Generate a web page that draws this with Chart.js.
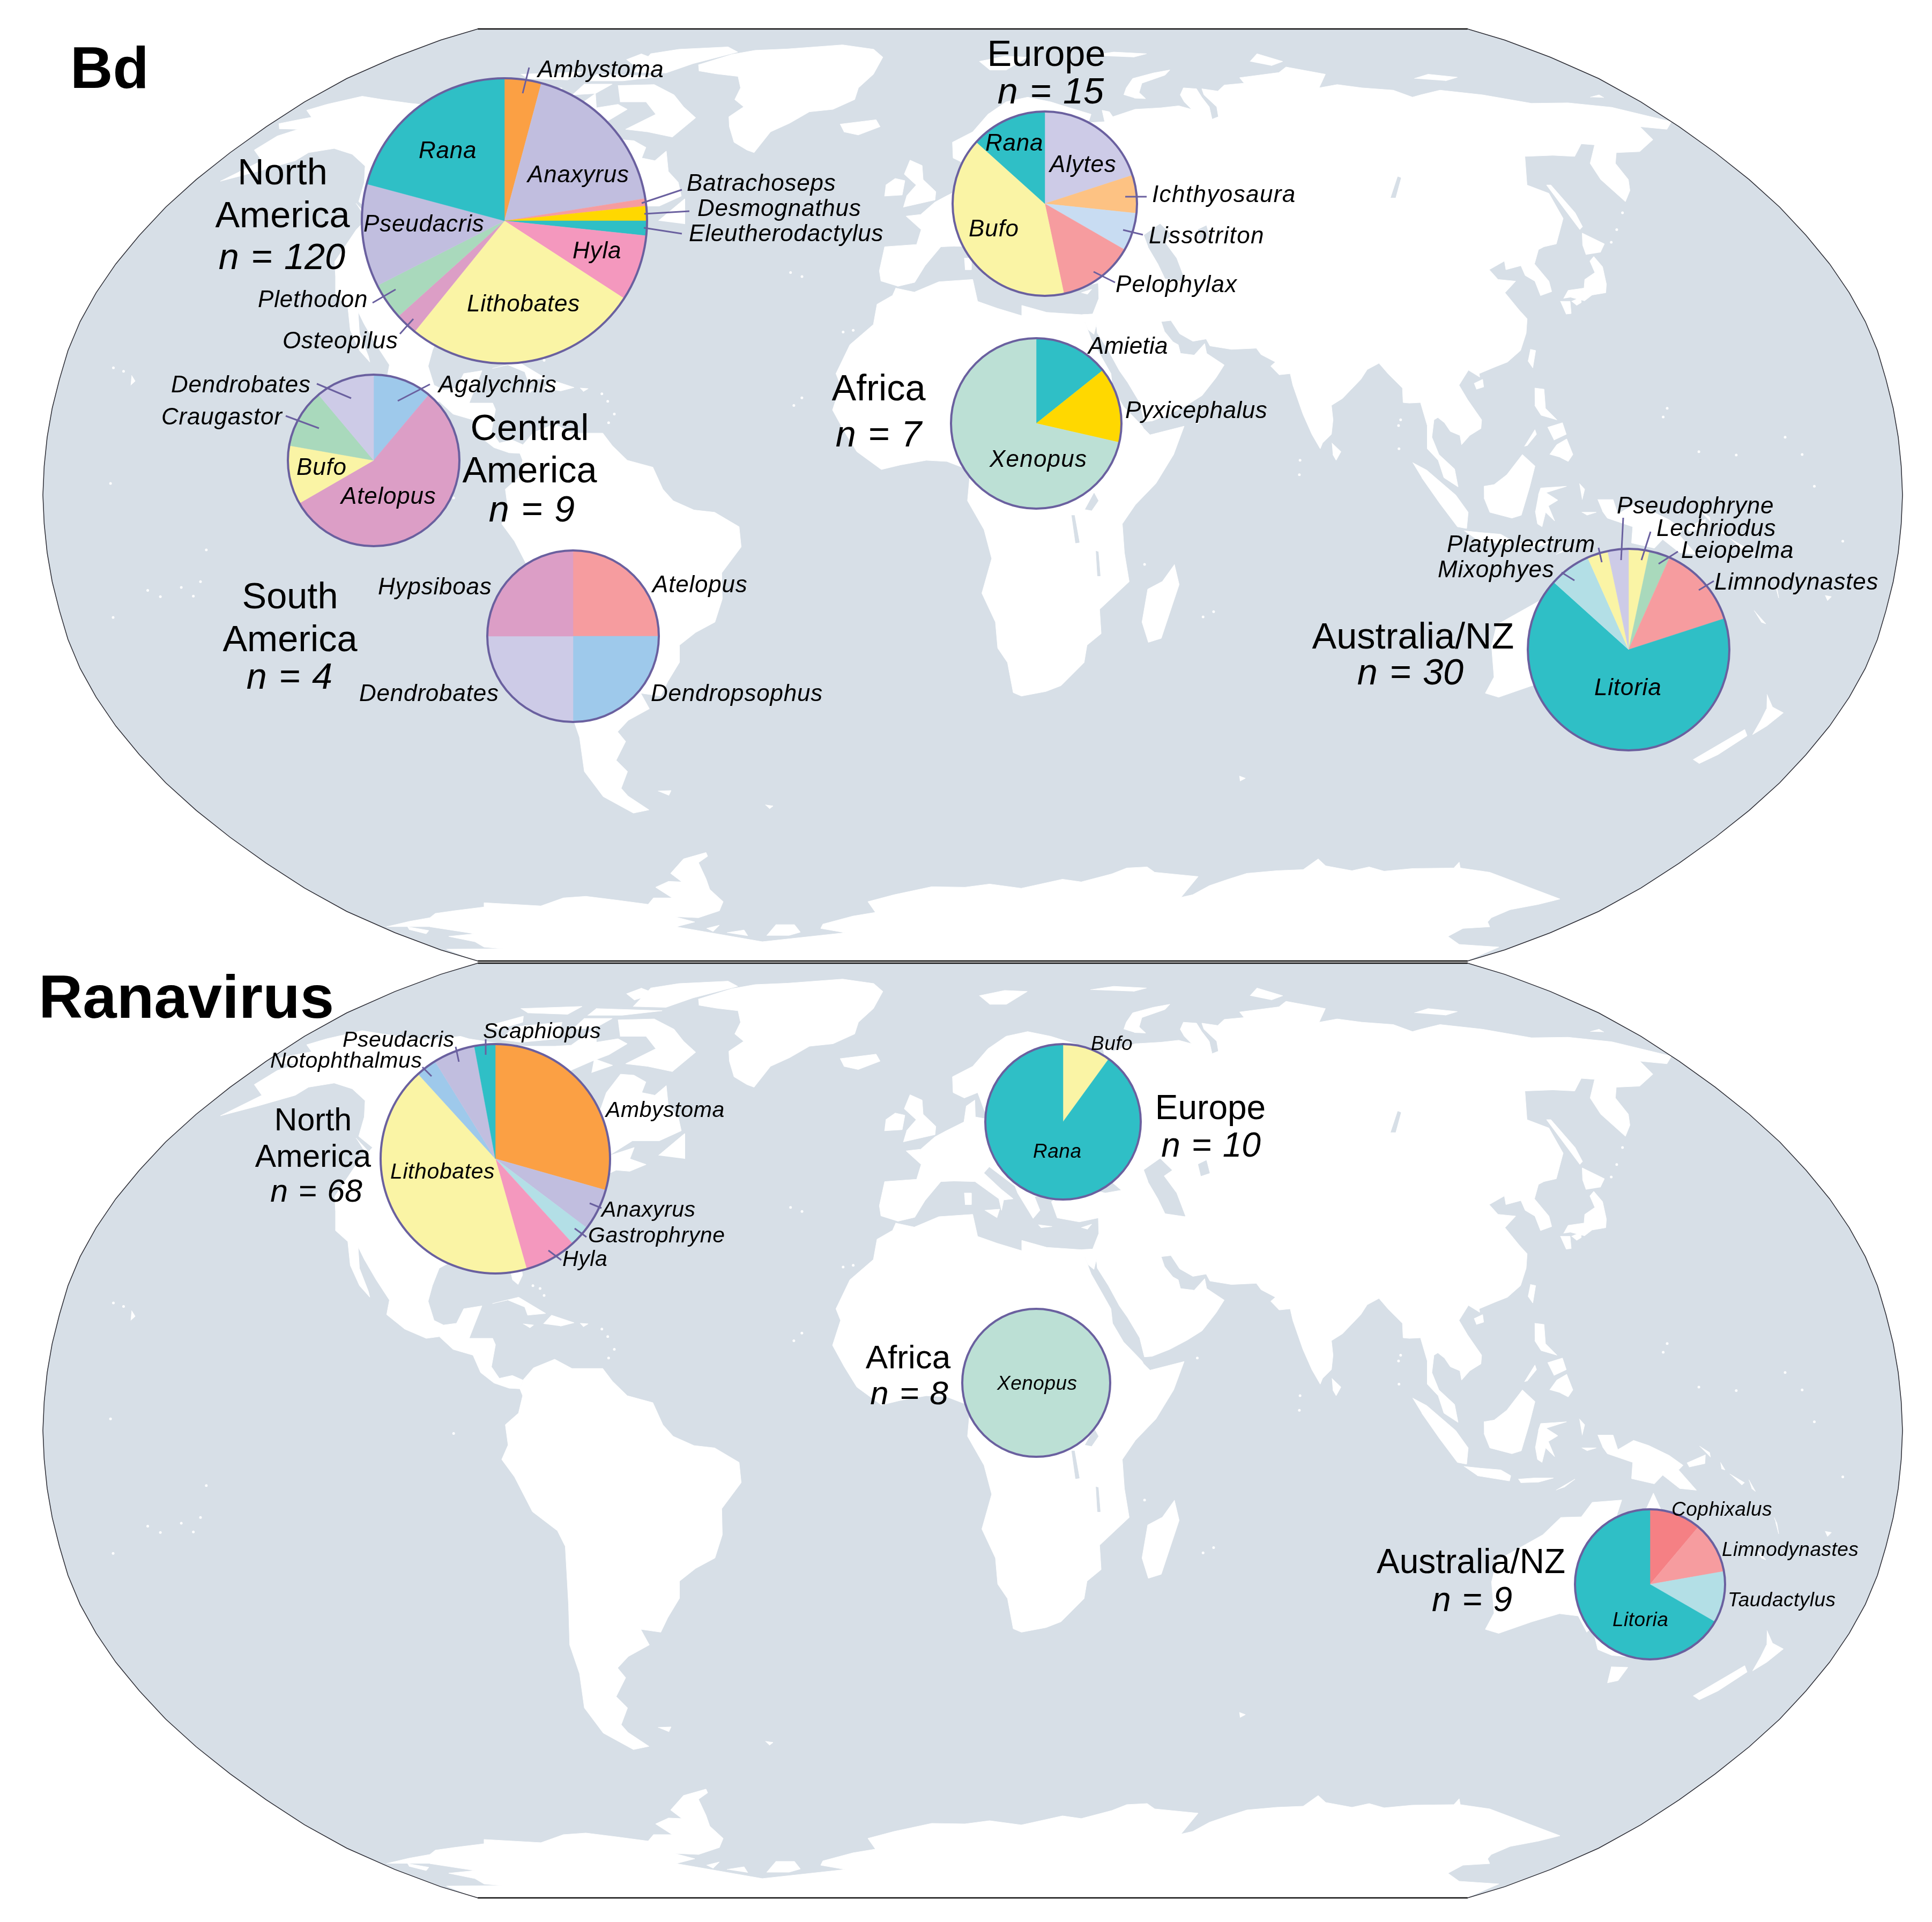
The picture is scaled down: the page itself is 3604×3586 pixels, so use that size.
<!DOCTYPE html>
<html>
<head>
<meta charset="utf-8">
<title>Bd and Ranavirus hosts by region</title>
<script src="https://cdn.jsdelivr.net/npm/chart.js@4"></script>
<style>
  html, body { margin: 0; background: #fff; }
  #stage { position: relative; width: 3604px; height: 3586px; overflow: hidden; }
  #stage canvas, #stage svg { position: absolute; }
  text { font-family: 'Liberation Sans', Arial, sans-serif; fill: #000; }
</style>
</head>
<body>
<div id="stage"></div>
<script>
// palette
const TEAL = '#2FBFC6', ORANGE = '#FBA044', LAVENDER = '#C1BEDF', SALMON = '#F69C9F', GOLD = '#FFD800';
const PINK = '#F498BE', YELLOW = '#FAF4A5', MAUVE = '#DC9EC6', GREEN = '#A9D9BC', BLUE = '#9EC9EB';
const LILAC = '#CDCBE7', PEACH = '#FDC283', PALEBLUE = '#C8DCF2', MINT = '#BCE0D5', CYAN = '#B3DFE6', CORAL = '#F58084';
const OCEAN = '#D7DFE7', RIM = '#6A609F';

// Bd, counts clockwise from 12 o'clock
const bdNorthAmericaGenera = ['Ambystoma', 'Anaxyrus', 'Batrachoseps', 'Desmognathus', 'Eleutherodactylus', 'Hyla', 'Lithobates', 'Osteopilus', 'Plethodon', 'Pseudacris', 'Rana'];
const bdNorthAmericaCounts = [5, 22, 1, 2, 2, 9, 32, 3, 5, 14, 25];
const bdNorthAmericaColors = [ORANGE, LAVENDER, SALMON, GOLD, TEAL, PINK, YELLOW, MAUVE, GREEN, LAVENDER, TEAL];

const bdCentralGenera = ['Agalychnis', 'Atelopus', 'Bufo', 'Craugastor', 'Dendrobates'];
const bdCentralCounts = [1, 5, 1, 1, 1];
const bdCentralColors = [BLUE, MAUVE, YELLOW, GREEN, LILAC];

const bdSouthGenera = ['Atelopus', 'Dendropsophus', 'Dendrobates', 'Hypsiboas'];
const bdSouthCounts = [1, 1, 1, 1];
const bdSouthColors = [SALMON, BLUE, LILAC, MAUVE];

const bdEuropeGenera = ['Alytes', 'Ichthyosaura', 'Lissotriton', 'Pelophylax', 'Bufo', 'Rana'];
const bdEuropeCounts = [3, 1, 1, 2, 6, 2];
const bdEuropeColors = [LILAC, PEACH, PALEBLUE, SALMON, YELLOW, TEAL];

const bdAfricaGenera = ['Amietia', 'Pyxicephalus', 'Xenopus'];
const bdAfricaCounts = [1, 1, 5];
const bdAfricaColors = [TEAL, GOLD, MINT];

const bdAustraliaGenera = ['Lechriodus', 'Leiopelma', 'Limnodynastes', 'Litoria', 'Mixophyes', 'Platyplectrum', 'Pseudophryne'];
const bdAustraliaCounts = [1, 1, 4, 20, 2, 1, 1];
const bdAustraliaColors = [YELLOW, GREEN, SALMON, TEAL, CYAN, YELLOW, LILAC];

// Ranavirus
const ranaNorthAmericaGenera = ['Ambystoma', 'Anaxyrus', 'Gastrophryne', 'Hyla', 'Lithobates', 'Notophthalmus', 'Pseudacris', 'Scaphiopus'];
const ranaNorthAmericaCounts = [20, 4, 2, 5, 29, 2, 4, 2];
const ranaNorthAmericaColors = [ORANGE, LAVENDER, CYAN, PINK, YELLOW, BLUE, LAVENDER, TEAL];

const ranaEuropeGenera = ['Bufo', 'Rana'];
const ranaEuropeCounts = [1, 9];
const ranaEuropeColors = [YELLOW, TEAL];

const ranaAfricaGenera = ['Xenopus'];
const ranaAfricaCounts = [8];
const ranaAfricaColors = [MINT];

const ranaAustraliaGenera = ['Cophixalus', 'Limnodynastes', 'Taudactylus', 'Litoria'];
const ranaAustraliaCounts = [1, 1, 1, 6];
const ranaAustraliaColors = [CORAL, SALMON, CYAN, TEAL];

// pie placement on the page: genera, counts, colours, centre x, centre y, radius
const pies = [
  [bdNorthAmericaGenera, bdNorthAmericaCounts, bdNorthAmericaColors, 941, 412, 266],
  [bdCentralGenera, bdCentralCounts, bdCentralColors, 697, 859, 160],
  [bdSouthGenera, bdSouthCounts, bdSouthColors, 1069, 1187, 160],
  [bdEuropeGenera, bdEuropeCounts, bdEuropeColors, 1949, 380, 172],
  [bdAfricaGenera, bdAfricaCounts, bdAfricaColors, 1933, 790, 159],
  [bdAustraliaGenera, bdAustraliaCounts, bdAustraliaColors, 3038, 1212, 188],
  [ranaNorthAmericaGenera, ranaNorthAmericaCounts, ranaNorthAmericaColors, 924, 2162, 214],
  [ranaEuropeGenera, ranaEuropeCounts, ranaEuropeColors, 1983, 2093, 145],
  [ranaAfricaGenera, ranaAfricaCounts, ranaAfricaColors, 1933, 2580, 138],
  [ranaAustraliaGenera, ranaAustraliaCounts, ranaAustraliaColors, 3078, 2956, 140]
];

// text: label, x, baseline y
const panelTitles = [['Bd', 131, 164, 110], ['Ranavirus', 72, 1899, 114]];
const bdRegions = [['North', 527, 344], ['America', 527, 424], ['Central', 988, 821], ['America', 988, 900], ['South', 541, 1135], ['America', 541, 1215], ['Africa', 1639, 747], ['Europe', 1952, 123], ['Australia/NZ', 2636, 1210]];
const bdSizes = [['n = 120', 526, 502], ['n = 9', 992, 973], ['n = 4', 540, 1285], ['n = 7', 1639, 833], ['n = 15', 1960, 193], ['n = 30', 2631, 1277]];
const ranaRegions = [['North', 584, 2109, 59], ['America', 584, 2177, 59], ['Africa', 1694, 2553, 62], ['Europe', 2258, 2088, 64], ['Australia/NZ', 2744, 2935, 64]];
const ranaSizes = [['n = 68', 590, 2242, 59], ['n = 8', 1696, 2620, 62], ['n = 10', 2259, 2158, 64], ['n = 9', 2746, 3006, 64]];
const bdLabels = [
  ['Ambystoma', 1003, 144, 0.3], ['Batrachoseps', 1281, 356], ['Desmognathus', 1301, 403], ['Eleutherodactylus', 1285, 450],
  ['Anaxyrus', 984, 340], ['Rana', 781, 295], ['Pseudacris', 678, 432], ['Hyla', 1068, 482], ['Lithobates', 871, 581],
  ['Plethodon', 481, 573], ['Osteopilus', 527, 650], ['Dendrobates', 319, 732], ['Agalychnis', 818, 732],
  ['Craugastor', 301, 792], ['Bufo', 553, 886], ['Atelopus', 636, 940], ['Hypsiboas', 705, 1109], ['Atelopus', 1217, 1105],
  ['Dendrobates', 670, 1308], ['Dendropsophus', 1214, 1308], ['Rana', 1838, 281], ['Alytes', 1958, 321],
  ['Ichthyosaura', 2149, 377, 1.4], ['Bufo', 1807, 441], ['Lissotriton', 2143, 454, 1.4], ['Pelophylax', 2081, 545, 1.2],
  ['Amietia', 2030, 660, 0.3], ['Pyxicephalus', 2099, 780, 0.5], ['Xenopus', 1846, 871, 1.2], ['Pseudophryne', 3016, 958],
  ['Lechriodus', 3090, 1000], ['Platyplectrum', 2699, 1030], ['Leiopelma', 3136, 1041], ['Mixophyes', 2682, 1077],
  ['Limnodynastes', 3198, 1100], ['Litoria', 2974, 1297]
];
const ranaLabels = [
  ['Pseudacris', 639, 1953], ['Scaphiopus', 901, 1937], ['Notophthalmus', 504, 1992], ['Ambystoma', 1130, 2084],
  ['Lithobates', 728, 2199], ['Anaxyrus', 1122, 2270], ['Gastrophryne', 1097, 2318], ['Hyla', 1049, 2362]
];
const ranaSmallLabels = [
  ['Bufo', 2035, 1959], ['Rana', 1927, 2160], ['Xenopus', 1860, 2593], ['Cophixalus', 3118, 2828],
  ['Limnodynastes', 3212, 2903], ['Taudactylus', 3223, 2997], ['Litoria', 3008, 3034]
];

// leader lines from a label to its slice: x1, y1, x2, y2
const leaders = [
  [987, 126, 975, 174], [1272, 354, 1197, 379], [1286, 394, 1202, 399], [1272, 436, 1201, 425],
  [695, 565, 738, 540], [746, 623, 771, 595], [591, 716, 655, 743], [802, 717, 742, 748], [533, 776, 595, 799],
  [2139, 367, 2099, 367], [2132, 438, 2095, 429], [2080, 527, 2040, 507], [3028, 966, 3024, 1045],
  [3079, 992, 3062, 1045], [3130, 1029, 3094, 1052], [2982, 1022, 2988, 1049], [2913, 1068, 2937, 1083],
  [3197, 1084, 3169, 1101], [850, 1953, 856, 1981], [906, 1939, 906, 1968], [788, 1991, 805, 2008],
  [1100, 2245, 1122, 2254], [1072, 2292, 1094, 2308], [1023, 2333, 1047, 2351]
];

// coastlines, lon/lat
const landPolygons = [
  // North and Central America
  [[-168,65.6],[-164,66.5],[-162,66.9],[-166,68.3],[-163,69.5],[-157,71.2],[-150,70.5],[-141,69.7],[-135,69.3],[-128,70],[-125,69.5],[-115,68.5],[-108,68],[-100,68],[-96,68.2],[-94,71.8],[-90,68.8],[-85,69.5],[-81.5,68.5],[-84,66.3],[-87,65],[-93,62],[-94.5,59],[-92.5,57],[-88,56.5],[-82.5,55.2],[-82,53],[-80,51.3],[-79,52],[-79,54.5],[-77,56],[-78,59],[-77.5,62.5],[-74,62.3],[-70,61],[-69.5,59],[-66,58.5],[-64.5,60.3],[-61.5,56.5],[-58,54.5],[-56,52],[-60,50.2],[-66,50.2],[-70,47.5],[-65,49],[-65,47],[-61,46],[-64,44.8],[-67,45],[-70,43.7],[-70.5,41.7],[-74,40.6],[-75.5,38],[-76,35],[-78,33.8],[-81,32],[-81.3,30],[-80,26.8],[-80.5,25.2],[-81.8,26],[-82.8,28],[-84,30],[-86,30.4],[-89,30.3],[-90,29.1],[-94,29.6],[-97,28],[-97.5,25],[-97.8,22.3],[-96,19],[-94,18.2],[-91.5,18.5],[-90.5,21],[-87,21.5],[-88,18],[-88.6,15.9],[-84,15.9],[-83.3,14.8],[-83.7,11],[-82,9],[-79.5,9.5],[-77.4,8.7],[-77.9,7.2],[-80,7.3],[-83,8.2],[-85.7,10],[-87.5,13],[-91.5,14],[-94.5,16.2],[-97,15.9],[-101.5,17.5],[-105.5,20],[-105.5,22.5],[-109,26],[-112.5,29.5],[-114.7,31.7],[-113,28],[-110,24],[-109.5,23],[-112,25],[-115,28.5],[-117.2,32.6],[-120.6,34.5],[-122.5,37.8],[-124.3,40.4],[-124,46],[-123,49],[-128,51],[-130.5,54.5],[-134,57.5],[-140,59.7],[-146,60.8],[-151,60],[-152,58.5],[-158,56.5],[-164,54.7],[-160,58.5],[-165,60.5],[-164,63.2],[-161,64.5],[-166,64.6]],
  // Arctic Canada, Greenland
  [[-73,78.2],[-66,80.8],[-60,82],[-50,82.4],[-33,83.6],[-22,82.3],[-18,80],[-19,76],[-22,73],[-22,70.5],[-27,68.5],[-33,68],[-37,65.7],[-41,64],[-43,60],[-45,60.5],[-49,62],[-52,65],[-53.5,67],[-51,69],[-54.5,70.5],[-55,73],[-58,75.5],[-65,76.1],[-71,76.8]],
  [[-90,73.5],[-80,73.7],[-72,71.5],[-67,69],[-62,66.8],[-65,63],[-72,64],[-78,64.5],[-73,67.5],[-78,70],[-85,70]],
  [[-90,76.5],[-80,76.3],[-75,78.5],[-65,81.5],[-70,83],[-85,82.3],[-92,81]],
  [[-117,72],[-105,73],[-101,69.5],[-110,68.8],[-116,69.3]],
  [[-125,72],[-118,74.3],[-116,73],[-120,71.5]],
  [[-100,76],[-80,75.5],[-90,74.5],[-100,74.5]],
  [[-122,76],[-105,76.5],[-106,74.7],[-118,75]],
  [[-87,65.5],[-81,64.2],[-85,62.8]],
  [[-59,47.6],[-55,51.5],[-53,47]],
  [[-95,81],[-88,79.5],[-92,78],[-97,79.5]],
  [[-100,73.8],[-92,73.8],[-94,71.8],[-100,71.5]],
  [[-128.3,50.7],[-123.5,48.4],[-125,48.8]],
  // Caribbean, Hawaii
  [[-85,21.9],[-80,23],[-74.2,20.2],[-77.7,19.9],[-78.5,21.3],[-82,22.5]],
  [[-74.4,18.4],[-73,19.9],[-68.4,18.6],[-71,18]],
  [[-78.4,18.4],[-76.3,18.2],[-77,17.7]],
  [[-67.2,18.5],[-65.6,18.4],[-66.5,17.9]],
  [[-156,20.7],[-155,19.7],[-155.7,19]],
  // South America
  [[-77.4,8.7],[-75.5,10.8],[-71.5,12.3],[-68,10.7],[-62,10.7],[-60,8.5],[-57,6],[-52,4.8],[-50,1],[-48,-1],[-44,-2.6],[-40,-3],[-35.3,-5.5],[-35,-9],[-39,-13.5],[-39.2,-18],[-41,-22],[-45,-23.8],[-48.5,-26],[-49,-29],[-52,-32.3],[-54,-34.8],[-58,-34.3],[-57,-37],[-62,-39],[-65,-41],[-64,-42.7],[-67.5,-46],[-66,-48],[-69,-51],[-68.3,-52.4],[-65,-54.9],[-69,-55.5],[-74,-52.5],[-75.5,-48],[-73.5,-42],[-73.5,-37],[-71.5,-30],[-70.3,-20],[-71.5,-17.3],[-76,-14],[-79,-8],[-81.3,-5],[-80,-2.5],[-80.5,1],[-78,3],[-77.3,6],[-77.9,7.2]],
  [[-61,-51.5],[-58,-51.4],[-59,-52.3]],
  // Africa, Madagascar
  [[-5.9,35.8],[-2,35.1],[3,36.9],[10,37.3],[11,33.5],[15,32.3],[20,31],[20,32.8],[25,31.6],[32,31.2],[34.3,31.3],[32.6,29.9],[33.7,27],[35.5,24],[37.3,21],[37.5,18.5],[39.5,15.3],[43,12],[43.3,11.5],[44.5,10.4],[51.2,11.9],[49,7],[45.5,2],[41.5,-1.7],[39,-5],[39.5,-10],[40.6,-15],[35,-19.8],[35.5,-24],[32.8,-26],[32.4,-29],[28,-33],[25,-34],[20,-34.8],[18.3,-34.2],[17,-29],[15,-26.5],[14.5,-22],[11.8,-17],[13.7,-11],[12.2,-6],[9,-1],[9.5,3.9],[8.5,4.6],[5,5.8],[1,6],[-4,5.2],[-7.7,4.4],[-12.5,7.5],[-15,11],[-17.4,14.7],[-16,19],[-17,21],[-14.5,26],[-10,29.5],[-9.5,33],[-6.5,34.5]],
  [[49.3,-12],[50.4,-15.5],[47.5,-24.8],[45,-25.5],[43.5,-22],[44.3,-16.3],[47,-15]],
  // Eurasia
  [[-9,37],[-9.5,38.8],[-8.8,43],[-2,43.4],[-1.2,46],[-4.7,48.4],[-1.5,48.7],[1.5,50.9],[4,52],[8,53.6],[8.5,56.5],[10.5,57.6],[10.6,54.5],[14,54],[19,54.5],[21,57],[24,57.2],[23.5,59.2],[30,59.9],[25,60.2],[21.5,61],[21.5,63],[25,65],[22,65.8],[17.5,62],[17.5,60.5],[19,59.5],[16.5,56.5],[14.3,55.5],[12.8,55.5],[11.2,59],[8,58],[5.3,59],[5,62],[10,64],[14,67.5],[19,70],[25,71],[31,70],[33,69.5],[41,67.5],[40,66.2],[33,66.6],[34.8,64.5],[37,64],[40,64.6],[40,65.8],[44,66],[44.2,68.3],[46,68],[46.5,67],[53,68.5],[60,68.8],[65,69.2],[68,68.5],[67,70],[67,71.5],[69,73],[72.5,72.8],[72.5,71],[73,69],[72,66.5],[74,67],[75,69],[73.5,71.5],[74,72.8],[78,72.3],[81,73.6],[87,74],[87,75.2],[100,76.4],[104,77.7],[113,76],[107,73],[113,73.7],[119,73],[127,72.5],[130,71],[133,71.5],[140,72.5],[150,71.5],[160,69.7],[170,69.8],[180,68.9],[190,66],[186,64.5],[180,65],[179,62.5],[172,60.2],[166,60],[163,58],[162,55],[160,53],[156.7,51],[155.6,55],[157,58],[163,61.5],[160,61.7],[155,59.3],[150,59.5],[143,59.3],[137.5,54],[141,52.5],[140,48],[135,43.5],[132,43],[130.5,42.5],[128,40],[129.4,37],[129,35.2],[126.4,34.5],[126.5,37],[125,38],[125,39.7],[121.5,39],[122,40.5],[118,39],[119,37.3],[122.5,37],[119.3,35],[121,32],[122,30.5],[121,28],[119,25],[116,23],[113.5,22.2],[110,21],[110,20.4],[108,21.6],[105.7,19],[107,16.5],[109.3,13],[109,11.5],[106.7,10.3],[105,8.7],[104.8,10.3],[103,11],[102,12.5],[100.8,13.4],[100,13],[99.3,10],[100.5,7],[103.4,4.5],[104,1.4],[101.3,3],[100.3,6],[98.3,8],[98.6,12],[97.7,16],[95.5,15.9],[94.3,16],[94.5,18.5],[92,21],[90.5,22.8],[88,21.7],[86.5,20],[82.5,16.7],[80.2,15.5],[80.3,13],[79.8,10.5],[78,9],[77.5,8],[76,10.5],[74.5,14],[73,19],[72.7,21],[70.5,20.8],[69,22.3],[70,23],[67.3,24.3],[66.5,25.4],[61.5,25.2],[57.3,25.8],[56.7,27],[54,26.6],[51.5,27.9],[50,30.2],[48,30],[48.5,28.3],[50,26.5],[51,26],[51.3,24.5],[54,24.2],[56.3,26.2],[56.5,24.5],[59.8,22.5],[58,20.3],[55,17.2],[52,15.6],[48.5,14],[45,12.8],[43.5,12.7],[42.7,16],[40.5,19.5],[39,21.5],[37,25],[35,28],[34.9,29.5],[34.3,27.8],[33.2,28.6],[32.6,29.9],[32.3,31.2],[34.3,31.3],[35.8,34],[36,36.7],[32,36],[27.5,36.7],[26.5,39.5],[29,41],[33,42],[38,41],[41.5,41.5],[37,45],[38.5,47.2],[35,45.8],[33.5,44.6],[31,46.5],[28,43],[28.5,41.4],[26,40.8],[23,40.4],[24,38],[22.5,36.6],[19.5,41],[19,42.2],[13.6,45.6],[12.4,44.5],[16,41.7],[18.5,40],[16.5,39.8],[16,38],[15.5,40],[10.5,43],[6,43.1],[3.2,43],[0,39.7],[-2,36.8],[-5.5,36.1]],
  // European and Arctic islands
  [[-5.5,50],[1.5,51.3],[1.6,52.8],[-1.5,55],[-2,57.6],[-5,58.6],[-6,56],[-3,54],[-5,52]],
  [[-10,52],[-6,52.2],[-5.7,54.8],[-8,55.2],[-10,54]],
  [[-24,65.5],[-15,66.4],[-13.6,65],[-18.7,63.4],[-22.5,64]],
  [[12,79],[20,80.3],[27,80],[20,77],[15,77]],
  [[51.5,71.5],[53,73],[56,75],[63,76.3],[68.5,77],[66,75.8],[58,74],[56,72],[57,70.7],[54,70.8]],
  [[47,80.5],[55,81.5],[65,81],[60,80]],
  [[95,79],[100,81],[105,79],[100,78]],
  [[137,75],[143,76],[150,75.3],[145,74.5]],
  [[178.5,71],[182,71.5],[182,70.9]],
  [[8.2,41],[9.7,41],[9.7,39],[8.4,39]],
  [[12.5,38],[15.6,38.2],[15,36.7]],
  [[23.5,35.5],[26.3,35.2],[24,35]],
  [[32.3,35],[34.5,35.6],[33.5,34.7]],
  // East Asia
  [[130.9,34],[132.5,35.4],[136,35.8],[137,37.3],[139.8,38.5],[140,40.5],[141.4,41.3],[142,39.5],[141,36.5],[140,35],[137,34.6],[135,33.6],[132.5,34.2]],
  [[130,33.5],[132,33.5],[131.3,31.4],[130.2,31.3]],
  [[132.3,33.5],[134.5,34.2],[134.2,33.3],[133,32.8]],
  [[140,41.6],[140.5,43.3],[142,45.4],[145.3,43.5],[143.3,42]],
  [[142,46],[142,54],[143,54],[143.5,49],[143,46.5]],
  [[121,25.2],[122,25],[120.8,22],[120.1,23.2]],
  [[108.7,19.3],[110.5,20],[110.5,18.7],[109,18.3]],
  [[79.8,9],[81.5,7.5],[80.5,6],[79.9,7]],
  // South-east Asia
  [[120.5,18.5],[122.3,18.3],[122,15],[124,13],[121,13.8],[120,15.5]],
  [[122,7],[123.5,8.7],[125.5,9.7],[126.5,7],[125.5,5.8],[124,6.5]],
  [[122,11.7],[125,12.5],[125.5,10.5],[123,9.5]],
  [[117.2,8.4],[119.5,11.3],[119.7,10.5],[117.7,8.5]],
  [[95.3,5.6],[98,4.3],[103.5,0],[106,-3],[105.8,-5.8],[104,-5.5],[100.5,-1.5],[97,3]],
  [[105.3,-6.2],[108.5,-6.5],[112.5,-6.8],[114.5,-7.8],[114.3,-8.7],[108,-7.8]],
  [[116,-8.4],[119,-8.2],[122.8,-8.2],[120,-8.9],[116.5,-9]],
  [[123.5,-10.3],[127,-8.4],[125,-9.8]],
  [[109,1.5],[111,1.8],[113.5,3.5],[116.7,7],[119,5],[117.8,1.2],[116.3,-3.5],[114.5,-4],[110.2,-3],[109,-0.5]],
  [[119.5,0],[120,1.2],[125,1.5],[121,0.4],[123.3,-0.9],[121.5,-1.9],[122.8,-4.5],[121,-3],[120.4,-5.5],[119.5,-5],[119,-2.8]],
  [[127.5,2],[128.5,1],[128,-0.8]],
  [[128,-3],[130.8,-3],[129,-3.5]],
  // New Guinea, Australia, New Zealand, Pacific
  [[131,-0.8],[134,-0.8],[135,-3.3],[138,-1.7],[141,-2.6],[145,-4.3],[147.8,-6],[147,-6.8],[150.8,-10.3],[147.5,-10],[144,-7.7],[142.5,-9.2],[138,-8.3],[138,-5.5],[133,-4],[132,-2.8]],
  [[148.5,-5.6],[152,-4.2],[152,-5.7],[149,-6.3]],
  [[150.8,-2.7],[152.8,-3.8],[153,-4.6]],
  [[155,-5.5],[156,-6.8],[155.3,-6.6]],
  [[157,-7.5],[160,-9],[159.5,-9.4]],
  [[160.8,-8.5],[162.3,-10.5],[161.5,-10]],
  [[166.7,-15],[167.5,-16],[168.3,-17.8],[167.2,-15.8]],
  [[113.7,-22.5],[117,-20.7],[122,-18],[125,-15],[129,-14.9],[130.8,-12.4],[136.5,-12],[135.8,-15],[140,-17.7],[141.7,-13],[142.5,-10.8],[145.3,-15],[146.3,-19],[149,-20.5],[153,-25],[153.5,-28.5],[151,-34],[150,-37.3],[146.4,-39],[143.5,-38.8],[140,-37.8],[138,-35.5],[137.5,-33],[136,-34.8],[133,-32],[129,-31.6],[124,-33],[118,-35],[115,-34.3],[115.7,-31.5],[113.5,-26]],
  [[144.7,-40.8],[148.3,-40.9],[148,-43.2],[146,-43.6]],
  [[166.5,-45.9],[172.7,-40.6],[174.2,-41.7],[171,-45],[168.5,-46.6]],
  [[172.8,-34.5],[175.5,-36.7],[178.5,-37.7],[176.8,-40],[175.2,-41.5],[174.8,-39],[174.5,-37]],
  [[164,-20],[167,-22.3],[166,-22]],
  [[177.3,-17.4],[178.6,-17.6],[178,-18.3]],
  [[-37.7,-54],[-36,-54.2],[-37,-54.7]],
  [[69,-48.8],[70.5,-49.2],[69.5,-49.7]]
];

// single-point islands, drawn as small dots by the projection
const islandDots = [
  [-160,22],[-157.8,21.4],[-172,-13.7],[-149.5,-17.6],[-145,-16],[-141,-15],[-139,-9.5],[-151.7,-16.5],[-143,-17.5],
  [-90.5,-0.5],[-25,15.5],[-23.5,16.8],[-16,28.2],[-14,28.5],[-25.5,37.8],[-28,38.5],[53.8,12.5],[57.5,-20.2],[55.5,-21.1],
  [43.5,-12],[73.3,3.5],[73.5,6],[93,12],[92.8,8],[93.5,13],[145.8,15],[144.8,13.5],[151,7.5],[158.2,6.9],[171,7],
  [168,10],[173,1.5],[179,-8],[-175,-21],[-171,-10],[-159.8,-21.2],[-157,2],[147,43.8],[150,46],[154,49],
  [-60,14],[-61,12.5],[-61.5,16.2],[-62.8,17.5],[-76,24.5],[-77.5,25],[-75,23.3]
];

// Antarctica and its shelves follow the page, traced on the Ranavirus map (centre y 2669)
const antarcticaTrace = [
  [721,3477],[763,3467],[802,3460],[812,3452],[847,3447],[903,3440],[903,3432],[1009,3438],[1051,3423],[1093,3420],[1149,3427],[1209,3435],[1219,3423],[1254,3423],[1223,3403],[1247,3392],[1272,3393],[1251,3377],[1275,3350],[1317,3338],[1320,3345],[1303,3357],[1317,3387],[1324,3407],[1349,3430],[1342,3447],[1303,3460],[1258,3458],[1296,3468],[1261,3477],[1296,3483],[1422,3505],[1577,3488],[1531,3480],[1535,3472],[1591,3457],[1633,3450],[1619,3430],[1668,3417],[1738,3402],[1800,3403],[1846,3397],[1905,3405],[1982,3388],[2017,3393],[2074,3378],[2102,3367],[2140,3365],[2154,3375],[2235,3383],[2203,3422],[2225,3417],[2256,3400],[2291,3388],[2326,3377],[2382,3372],[2431,3370],[2459,3350],[2473,3363],[2522,3372],[2554,3365],[2582,3373],[2635,3368],[2712,3367],[2722,3356],[2724,3367],[2779,3375],[2824,3392],[2852,3403],[2910,3425],[2870,3435],[2817,3445],[2782,3460],[2775,3468],[2779,3477],[2729,3480],[2701,3495],[2722,3510],[2796,3515],[2736,3541],[889,3541],[833,3519],[938,3518],[903,3515],[886,3505],[837,3495],[886,3490],[802,3477]
];
const shelfIslands = [
  [[1447,3473],[1482,3473],[1493,3487],[1472,3493],[1430,3493]],
  [[1318,3480],[1342,3474],[1330,3486]],
  [[1356,3488],[1388,3483],[1395,3494]],
  [[760,3477],[800,3484],[795,3490],[763,3482]]
];

const lakePolygons = [
  [[47,45],[51,47],[53,45],[51,44],[53,41],[54,37],[50,37.5],[49,40],[47.5,43]],
  [[59,46],[61,46.7],[61,44.5],[59,44]],
  [[104.5,51.7],[109,55.5],[109.5,55.3],[105.5,51.7]],
  [[29.2,-3.5],[30,-8.3],[30.7,-8.2],[29.7,-3.5]],
  [[34,-9.7],[34.4,-14],[34.9,-14],[34.4,-9.8]],
  [[31.8,-2.5],[33.5,0.3],[34.3,-1],[33,-2.7]]
];

// Robinson projection table, one row per 5 degrees of latitude
const robinsonLength = [1, .9986, .9954, .99, .9822, .973, .96, .9427, .9216, .8962, .8679, .835, .7986, .7597, .7186, .6732, .6213, .5722, .5322];
const robinsonDepth = [0, .062, .124, .186, .248, .31, .372, .434, .4958, .5571, .6176, .6769, .7346, .7903, .8435, .8936, .9394, .9761, 1];
const centreLon = 10;
const mapCx = 1814.5, mapHalfWidth = 1734.5;
const traceCy = 2669, traceHalfHeight = 872;
const maps = [{ cy: 923.5, halfHeight: 869.5 }, { cy: 2669, halfHeight: 872 }];

function project(lon, lat, map) {
  const t = Math.min(Math.abs(lat) / 5, 17.999);
  const i = Math.floor(t), f = t - i;
  const len = robinsonLength[i] + (robinsonLength[i + 1] - robinsonLength[i]) * f;
  const depth = robinsonDepth[i] + (robinsonDepth[i + 1] - robinsonDepth[i]) * f;
  return {
    x: mapCx + mapHalfWidth * len * (lon - centreLon) / 180,
    y: map.cy - Math.sign(lat) * map.halfHeight * depth
  };
}

function fromTrace(p, map) {
  return { x: p[0], y: map.cy + (p[1] - traceCy) * map.halfHeight / traceHalfHeight };
}

function globeEdge(map) {
  const pts = [];
  for (let lat = -90; lat <= 90; lat += 5) pts.push(project(centreLon + 180, lat, map));
  for (let lat = 90; lat >= -90; lat -= 5) pts.push(project(centreLon - 180, lat, map));
  pts.push(pts[0]);
  return pts;
}

const stage = document.getElementById('stage');
Chart.defaults.font.family = "'Liberation Sans', Arial, sans-serif";

function addCanvas(x, y, w, h, z) {
  const c = document.createElement('canvas');
  c.width = w; c.height = h;
  c.style.cssText = `left:${x}px;top:${y}px;width:${w}px;height:${h}px;z-index:${z}`;
  stage.appendChild(c);
  return c;
}

// a page-sized chart whose axes are the page pixels, so map and leaders sit on it directly
function pageChart(z, datasets) {
  return new Chart(addCanvas(0, 0, 3604, 3586, z), {
    type: 'line',
    data: { datasets },
    options: {
      responsive: false,
      animation: false,
      devicePixelRatio: 1,
      events: [],
      // autoPadding would shrink the chart area and push everything off the page pixels
      layout: { padding: 0, autoPadding: false },
      elements: { point: { radius: 0 }, line: { tension: 0 } },
      plugins: { legend: { display: false }, tooltip: { enabled: false } },
      scales: {
        x: { type: 'linear', min: 0, max: 3604, display: false },
        y: { type: 'linear', min: 0, max: 3586, reverse: true, display: false }
      }
    }
  });
}

function shape(data, fillColor, order) {
  return { data, fill: 'shape', backgroundColor: fillColor, borderColor: fillColor, borderWidth: 1, order };
}

// map layer
const mapSets = [];
maps.forEach(map => {
  const edge = globeEdge(map);
  mapSets.push(shape(edge, OCEAN, 100));
  landPolygons.forEach(poly => mapSets.push(shape(poly.map(p => project(p[0], p[1], map)), '#ffffff', 50)));
  mapSets.push(shape(antarcticaTrace.map(p => fromTrace(p, map)), '#ffffff', 50));
  shelfIslands.forEach(poly => mapSets.push(shape(poly.map(p => fromTrace(p, map)), '#ffffff', 40)));
  lakePolygons.forEach(poly => mapSets.push(shape(poly.map(p => project(p[0], p[1], map)), OCEAN, 10)));
  mapSets.push({
    data: islandDots.map(p => project(p[0], p[1], map)),
    showLine: false, pointRadius: 2.5, pointBackgroundColor: '#ffffff', pointBorderWidth: 0, order: 45
  });
  mapSets.push({ data: edge, fill: false, borderColor: '#2b2b33', borderWidth: 1.5, order: 2 });
  // the flat pole lines print heavier than the curved sides
  mapSets.push({ data: [project(centreLon - 180, 90, map), project(centreLon + 180, 90, map)], fill: false, borderColor: '#111111', borderWidth: 2.5, order: 1 });
  mapSets.push({ data: [project(centreLon - 180, -90, map), project(centreLon + 180, -90, map)], fill: false, borderColor: '#111111', borderWidth: 2.5, order: 1 });
});
pageChart(0, mapSets);

// purple rim round each pie, the slices themselves have no outline
const rimPlugin = {
  id: 'rim',
  afterDatasetsDraw(chart) {
    const arc = chart.getDatasetMeta(0).data[0];
    const ctx = chart.ctx;
    ctx.save();
    ctx.beginPath();
    ctx.arc(arc.x, arc.y, arc.outerRadius, 0, Math.PI * 2);
    ctx.lineWidth = 4;
    ctx.strokeStyle = RIM;
    ctx.stroke();
    ctx.restore();
  }
};

pies.forEach(([genera, counts, colors, cx, cy, r]) => {
  const pad = 6;
  new Chart(addCanvas(cx - r - pad, cy - r - pad, 2 * (r + pad), 2 * (r + pad), 1), {
    type: 'pie',
    data: { labels: genera, datasets: [{ data: counts, backgroundColor: colors, borderColor: colors, borderWidth: 0.5 }] },
    options: {
      responsive: false,
      animation: false,
      devicePixelRatio: 1,
      events: [],
      radius: r,
      layout: { padding: 0, autoPadding: false },
      plugins: { legend: { display: false }, tooltip: { enabled: false } }
    },
    plugins: [rimPlugin]
  });
});

// leader lines go above the pies
pageChart(2, leaders.map(l => ({
  data: [{ x: l[0], y: l[1] }, { x: l[2], y: l[3] }],
  fill: false, borderColor: RIM, borderWidth: 3
})));

// text layer
const svg = document.createElementNS('http://www.w3.org/2000/svg', 'svg');
svg.setAttribute('width', 3604);
svg.setAttribute('height', 3586);
svg.style.cssText = 'left:0;top:0;z-index:3';
stage.appendChild(svg);

function addText(str, x, y, size, opts) {
  const t = document.createElementNS('http://www.w3.org/2000/svg', 'text');
  t.textContent = str;
  t.setAttribute('x', x);
  t.setAttribute('y', y);
  t.setAttribute('font-size', size);
  if (opts.anchor) t.setAttribute('text-anchor', opts.anchor);
  if (opts.italic) t.setAttribute('font-style', 'italic');
  if (opts.bold) t.setAttribute('font-weight', 'bold');
  if (opts.spacing) t.setAttribute('letter-spacing', opts.spacing);
  if (opts.words) t.setAttribute('word-spacing', opts.words);
  svg.appendChild(t);
}

panelTitles.forEach(([s, x, y, size]) => addText(s, x, y, size, { bold: true }));
bdRegions.forEach(([s, x, y]) => addText(s, x, y, 68.5, { anchor: 'middle' }));
bdSizes.forEach(([s, x, y]) => addText(s, x, y, 68.5, { anchor: 'middle', italic: true, words: 3 }));
ranaRegions.forEach(([s, x, y, size]) => addText(s, x, y, size, { anchor: 'middle' }));
ranaSizes.forEach(([s, x, y, size]) => addText(s, x, y, size, { anchor: 'middle', italic: true, words: 3 }));
bdLabels.forEach(([s, x, y, spacing]) => addText(s, x, y, 44, { italic: true, spacing: spacing === undefined ? 0.8 : spacing }));
ranaLabels.forEach(([s, x, y]) => addText(s, x, y, 41, { italic: true, spacing: 0.6 }));
ranaSmallLabels.forEach(([s, x, y]) => addText(s, x, y, 37, { italic: true, spacing: 0.5 }));
</script>
</body>
</html>
